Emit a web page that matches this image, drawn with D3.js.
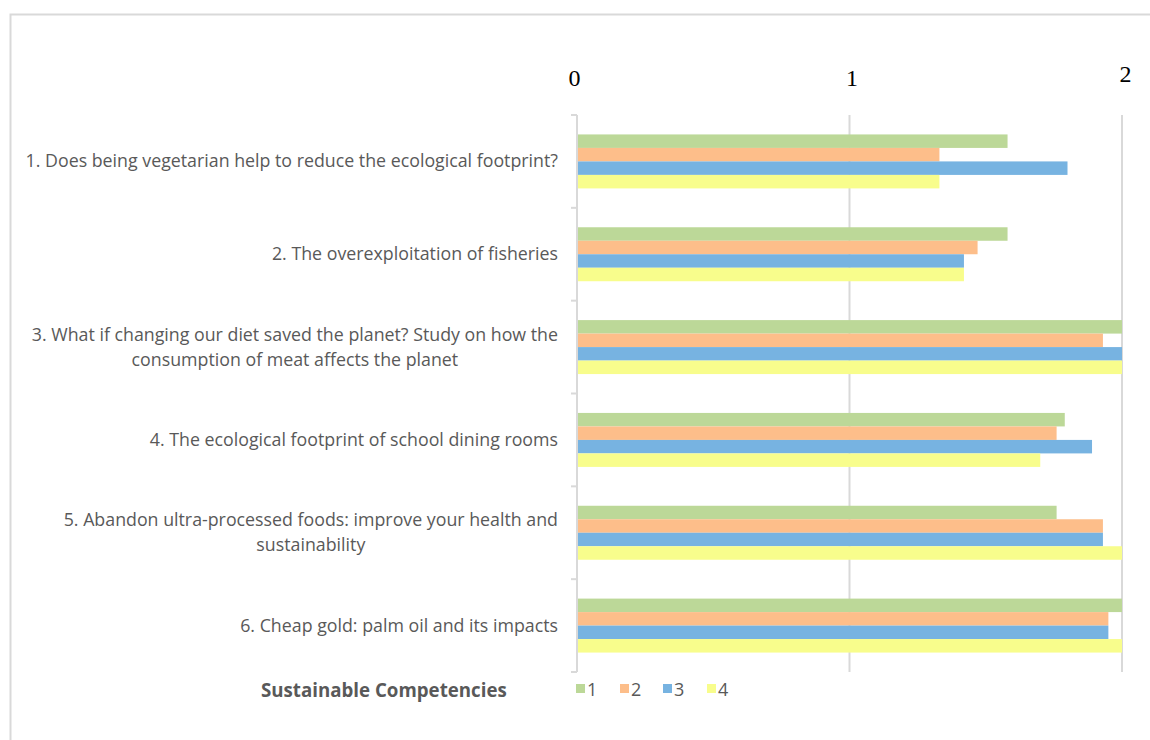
<!DOCTYPE html>
<html>
<head>
<meta charset="utf-8">
<script src="https://cdn.jsdelivr.net/npm/d3@7"></script>
<style>
  body { margin: 0; background: #fff; }
  .cat-label { font-family: "Open Sans", sans-serif; font-size: 17.8px; fill: #595959; }
  .top-axis text { font-family: "Liberation Serif", "DejaVu Serif", serif; font-size: 24px; fill: #000; }
  .legend-text { font-family: "Open Sans", sans-serif; font-size: 18px; fill: #595959; }
</style>
</head>
<body>
<div id="vis"></div>
<script>
const FRAME_WIDTH = 1150;
const FRAME_HEIGHT = 740;
const MARGINS = {left: 577, right: 28, top: 115, bottom: 68};

// categories (each line of a label is one entry)
const questions = [
  ["1. Does being vegetarian help to reduce the ecological footprint?"],
  ["2. The overexploitation of fisheries"],
  ["3. What if changing our diet saved the planet? Study on how the", "consumption of meat affects the planet"],
  ["4. The ecological footprint of school dining rooms"],
  ["5. Abandon ultra-processed foods: improve your health and", "sustainability"],
  ["6. Cheap gold: palm oil and its impacts"]
];
const seriesNames = ["1", "2", "3", "4"];
const series1 = [1.58, 1.58, 2.00, 1.79, 1.76, 2.00];
const series2 = [1.33, 1.47, 1.93, 1.76, 1.93, 1.95];
const series3 = [1.80, 1.42, 2.00, 1.89, 1.93, 1.95];
const series4 = [1.33, 1.42, 2.00, 1.70, 2.00, 2.00];
const xTicks = [0, 1, 2];
const colors = ["#bcd898", "#fdbe8a", "#77b3e1", "#f8fd8c"];

const allSeries = [series1, series2, series3, series4];
const qIds = questions.map((q, i) => i);

const svg = d3.select("#vis").append("svg")
  .attr("width", FRAME_WIDTH)
  .attr("height", FRAME_HEIGHT);

// outer chart border (only left/top visible in reference)
svg.append("path")
  .attr("d", "M10.5,740 L10.5,14.5 L1150,14.5")
  .attr("fill", "none")
  .attr("stroke", "#d9d9d9")
  .attr("stroke-width", 2);

const X_SCALE = d3.scaleLinear()
  .domain([0, 2])
  .range([MARGINS.left, FRAME_WIDTH - MARGINS.right]);

const Y_SCALE = d3.scaleBand()
  .domain(qIds)
  .range([MARGINS.top, FRAME_HEIGHT - MARGINS.bottom]);

const SUB_SCALE = d3.scaleBand()
  .domain(seriesNames)
  .range([0, Y_SCALE.bandwidth()])
  .paddingOuter(1.44);

// gridlines
svg.selectAll(".grid")
  .data(xTicks.slice(1))
  .enter().append("line")
  .attr("x1", d => X_SCALE(d)).attr("x2", d => X_SCALE(d))
  .attr("y1", MARGINS.top).attr("y2", FRAME_HEIGHT - MARGINS.bottom)
  .attr("stroke", "#d9d9d9")
  .attr("stroke-width", 2);

// bars
qIds.forEach(qi => {
  svg.selectAll(".bar-q" + qi)
    .data(seriesNames)
    .enter().append("rect")
    .attr("x", X_SCALE(0))
    .attr("y", s => Y_SCALE(qi) + SUB_SCALE(s))
    .attr("width", (s, si) => X_SCALE(allSeries[si][qi]) - X_SCALE(0))
    .attr("height", SUB_SCALE.bandwidth())
    .attr("fill", (s, si) => colors[si]);
});

// left axis line with ticks at category boundaries
svg.append("line")
  .attr("x1", X_SCALE(0)).attr("x2", X_SCALE(0))
  .attr("y1", MARGINS.top).attr("y2", FRAME_HEIGHT - MARGINS.bottom)
  .attr("stroke", "#d9d9d9")
  .attr("stroke-width", 2);

const bounds = qIds.map(i => Y_SCALE(i)).concat([FRAME_HEIGHT - MARGINS.bottom]);
svg.selectAll(".ytick")
  .data(bounds)
  .enter().append("line")
  .attr("x1", X_SCALE(0) - 6).attr("x2", X_SCALE(0))
  .attr("y1", d => d).attr("y2", d => d)
  .attr("stroke", "#d9d9d9")
  .attr("stroke-width", 2);

// category labels (centered block, right edge at 558)
const LABEL_RIGHT = 558;
const LINE_H = 25;
qIds.forEach(qi => {
  const lines = questions[qi];
  const cy = Y_SCALE(qi) + Y_SCALE.bandwidth() / 2;
  const g = svg.append("g");
  const texts = g.selectAll("text")
    .data(lines)
    .enter().append("text")
    .attr("class", "cat-label")
    .attr("y", (d, i) => cy + 6 + (i - (lines.length - 1) / 2) * LINE_H)
    .text(d => d);
  const widths = texts.nodes().map(n => n.getComputedTextLength());
  const maxW = d3.max(widths);
  const center = LABEL_RIGHT - maxW / 2;
  texts.attr("x", center).attr("text-anchor", "middle");
});

// top axis labels
const topAxis = svg.append("g")
  .attr("class", "top-axis")
  .attr("transform", "translate(0,86)")
  .call(d3.axisTop(X_SCALE).tickValues(xTicks).tickSize(0).tickPadding(0).tickFormat(d3.format("d")));
topAxis.select(".domain").remove();
topAxis.selectAll(".tick text")
  .attr("dx", (d, i) => [-3, 2, 3][i])
  .attr("dy", (d, i) => d === 2 ? -4 : 0);

// legend
svg.append("text")
  .attr("x", 261).attr("y", 697)
  .attr("font-family", "'Open Sans', sans-serif")
  .attr("font-size", "18.7px")
  .attr("font-weight", "bold")
  .attr("fill", "#595959")
  .text("Sustainable Competencies");

const legendX = [576, 620, 663, 707];
const legend = svg.selectAll(".legend")
  .data(seriesNames)
  .enter().append("g")
  .attr("transform", (d, i) => "translate(" + legendX[i] + ",684)");
legend.append("rect")
  .attr("width", 9).attr("height", 9)
  .attr("fill", (d, i) => colors[i]);
legend.append("text")
  .attr("class", "legend-text")
  .attr("x", 11).attr("y", 12)
  .text(d => d);
</script>
</body>
</html>
